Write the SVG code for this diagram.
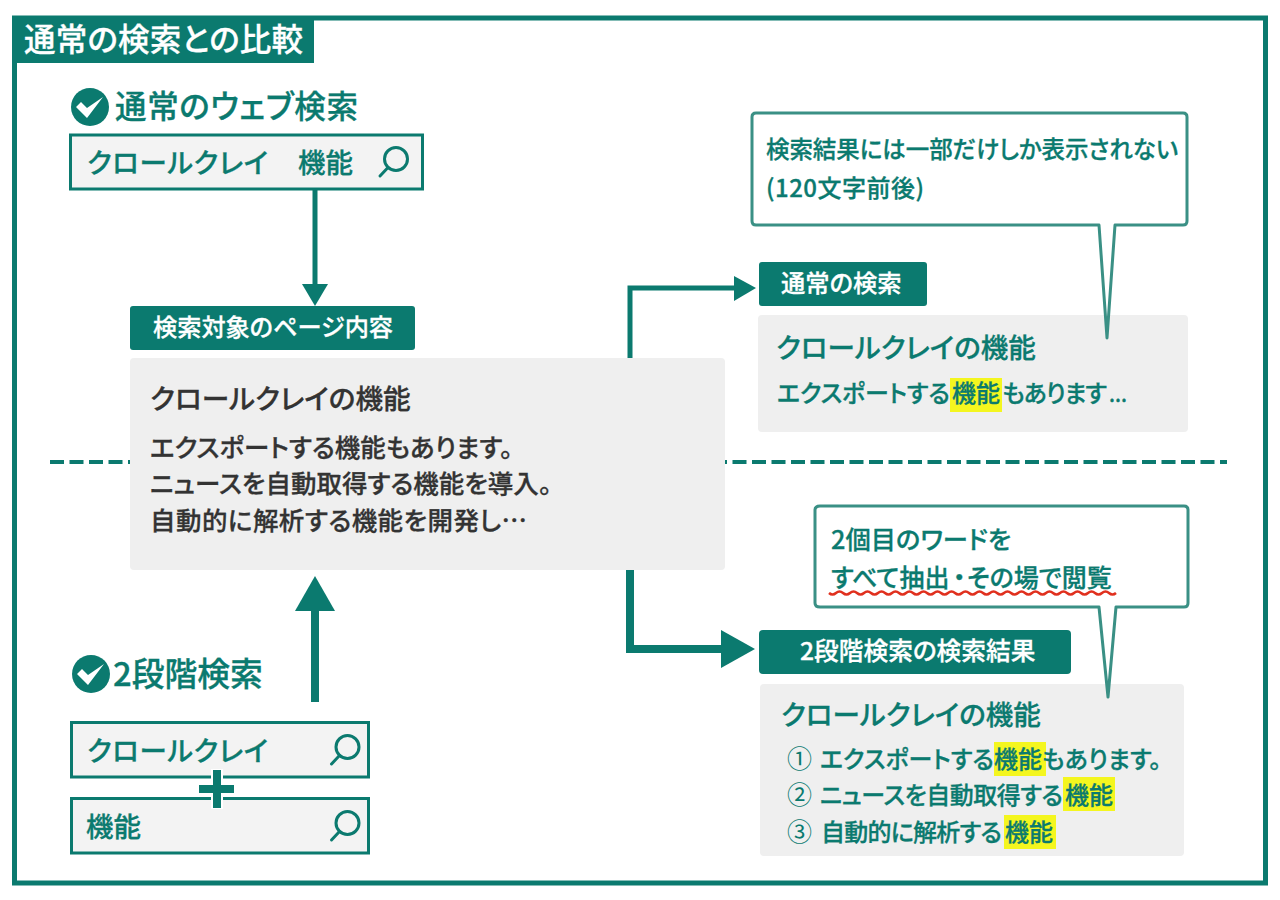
<svg xmlns="http://www.w3.org/2000/svg" width="1280" height="900" viewBox="0 0 1280 900">
<style>
text{font-family:"Noto Sans CJK JP","Noto Sans",sans-serif;font-weight:500;fill:#0b7a6f;stroke:#0b7a6f;stroke-width:.3;font-feature-settings:"palt"}
text.w{fill:#fff;stroke:#fff}
text.d{fill:#333;stroke:#333}
text.n{font-weight:400;stroke:none}
.sb{fill:#f3f3f3;stroke:#0b7a6f;stroke-width:3}
.panel{fill:#efefef}
.tag{fill:#0b7a6f}
.hl{fill:#f4f61f}
.co{fill:none;stroke:#0b7a6f}
.ah{fill:#0b7a6f}
.callout{fill:#fff;stroke:#3a9085;stroke-width:3;stroke-linejoin:round}
.mag{fill:none;stroke:#0b7a6f;stroke-width:3;stroke-linecap:round}
</style>
<defs>
<g id="mag"><circle r="11.500" class="mag"/><path d="M-8 8.500L-16 17" class="mag"/></g>
<g id="chk"><circle r="19" fill="#0b7a6f"/><path d="M-14 0L-9-5L-3 1L13-10L-3 11Z" fill="#fff"/></g>
</defs>
<g id="frame"><rect x="14.500" y="18" width="1251" height="865" fill="#fff" stroke="#0b7a6f" stroke-width="5"/></g>
<g id="title"><rect x="12" y="16" width="302" height="47" fill="#0b7a6f"/><text class="w" x="24" y="51" font-size="31.500" textLength="279">通常の検索との比較</text></g>
<g id="connectors">
<line class="co" x1="50" y1="462" x2="1227" y2="462" stroke-width="4" stroke-dasharray="14 5.500"/>
<line class="co" x1="315" y1="190" x2="315" y2="286" stroke-width="5"/>
<path class="ah" d="M302 284H328L315 306Z"/>
<path class="co" d="M630 358V288H736" stroke-width="5"/>
<path class="ah" d="M734 276L756 288L734 301Z"/>
<line class="co" x1="315" y1="702" x2="315" y2="608" stroke-width="8"/>
<path class="ah" d="M295 611L315 576L335 611Z"/>
<path class="co" d="M630 570V649H724" stroke-width="8"/>
<path class="ah" d="M721 630L755 649L721 668Z"/>
</g>
<g id="check-normal"><use href="#chk" x="90" y="107"/><text x="115" y="118" font-size="31.500" textLength="243">通常のウェブ検索</text></g>
<g id="search-normal"><rect class="sb" x="70.500" y="135" width="352" height="54"/><text x="87" y="173" font-size="27.500" textLength="181">クロールクレイ</text><text x="298" y="173" font-size="27.500">機能</text><use href="#mag" x="396" y="159"/></g>
<g id="tag-page"><rect class="tag" x="130" y="306" width="285" height="44" rx="3"/><text class="w" x="153" y="336" font-size="24.200">検索対象のページ内容</text></g>
<g id="panel-page"><rect class="panel" x="130" y="358" width="595" height="212" rx="4"/>
<text class="d" x="150" y="409" font-size="27.700">クロールクレイの機能</text>
<text class="d" x="150" y="457" font-size="25.500">エクスポートする機能もあります。</text>
<text class="d" x="150" y="493" font-size="25.500">ニュースを自動取得する機能を導入。</text>
<text class="d" x="150" y="530" font-size="25.500" textLength="377">自動的に解析する機能を開発し…</text></g>
<g id="tag-normal"><rect class="tag" x="759" y="262" width="168" height="44" rx="3"/><text class="w" x="781" y="292" font-size="24.300">通常の検索</text></g>
<g id="panel-normal"><rect class="panel" x="758" y="315" width="430" height="117" rx="4"/>
<text x="776" y="358" font-size="27.600">クロールクレイの機能</text>
<rect class="hl" x="950" y="378" width="52" height="34"/>
<text x="777" y="402" font-size="24" textLength="173">エクスポートする</text>
<text x="952" y="402" font-size="24">機能</text>
<text x="1002" y="402" font-size="24" textLength="105">もあります</text>
<text x="1109" y="402" font-size="20">...</text></g>
<g id="callout-top"><path class="callout" d="M756 113H1183Q1187 113 1187 117V221Q1187 225 1183 225H1115L1107 338L1099 225H756Q752 225 752 221V117Q752 113 756 113Z"/>
<text x="766" y="158" font-size="23.500" textLength="412">検索結果には一部だけしか表示されない</text>
<text x="766" y="197" font-size="24" textLength="158">(120文字前後)</text></g>
<g id="panel-2step"><rect class="panel" x="760" y="684" width="424" height="172" rx="4"/>
<text x="781" y="725" font-size="27.600">クロールクレイの機能</text>
<rect class="hl" x="994" y="742" width="52" height="34"/>
<rect class="hl" x="1063" y="777" width="52" height="34"/>
<rect class="hl" x="1004" y="815" width="52" height="34"/>
<text class="n" x="787" y="768" font-size="25">①</text>
<text class="n" x="787" y="804" font-size="25">②</text>
<text class="n" x="787" y="841" font-size="25">③</text>
<text x="820" y="768" font-size="24">エクスポートする機能もあります。</text>
<text x="820" y="804" font-size="24" textLength="243">ニュースを自動取得する</text>
<text x="1065" y="804" font-size="24">機能</text>
<text x="821" y="841" font-size="24" textLength="181">自動的に解析する</text>
<text x="1005" y="841" font-size="24">機能</text></g>
<g id="callout-bottom"><path class="callout" d="M820 506H1184Q1188 506 1188 510V603Q1188 607 1184 607H1116L1108 697L1099 607H820Q815 607 815 603V510Q815 506 820 506Z"/>
<text x="831" y="549" font-size="25.300">2個目のワードを</text>
<text x="831" y="587" font-size="25">すべて抽出<tspan x="953">・</tspan><tspan x="967">その場で閲覧</tspan></text>
<path d="M829 593q3.500 3 7 0t7 0t7 0t7 0t7 0t7 0t7 0t7 0t7 0t7 0t7 0t7 0t7 0t7 0t7 0t7 0t7 0t7 0t7 0t7 0t7 0t7 0t7 0t7 0t7 0t7 0t7 0t7 0t7 0t7 0t7 0t7 0t7 0t7 0t7 0t7 0t7 0t7 0t7 0t7 0t7 0" fill="none" stroke="#e0301e" stroke-width="2.500"/></g>
<g id="tag-2step"><rect class="tag" x="759" y="630" width="312" height="44" rx="4"/><text class="w" x="800" y="660" font-size="24.700">2段階検索の検索結果</text></g>
<g id="check-2step"><use href="#chk" x="91" y="674"/><text x="113" y="686" font-size="32.800">2段階検索</text></g>
<g id="search-a"><rect class="sb" x="71.500" y="722.500" width="297" height="54.500"/><text x="87" y="761" font-size="27.500" textLength="181">クロールクレイ</text><use href="#mag" x="347.500" y="747"/></g>
<g id="search-b"><rect class="sb" x="71.500" y="798.500" width="297" height="54.500"/><text x="86" y="837" font-size="27.500">機能</text><use href="#mag" x="347.500" y="823"/></g>
<g id="plus"><path d="M211 769h12v15h12v12h-12v13h-12v-13h-13v-12h13z" fill="#fff"/><path d="M213 770h8v15h13v8h-13v15h-8v-15h-14v-8h14z" fill="#0b7a6f"/></g>
</svg>
